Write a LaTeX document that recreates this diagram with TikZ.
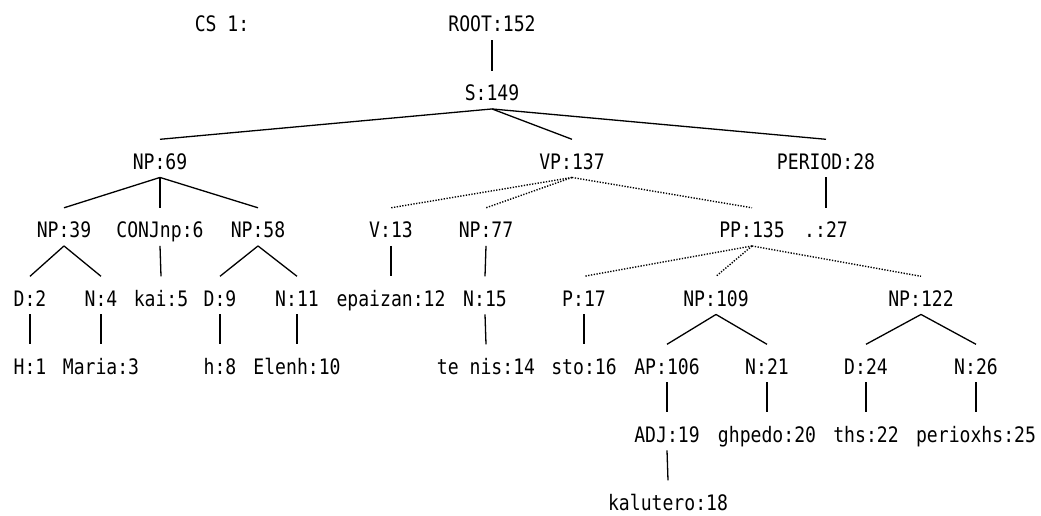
\documentclass[tikz,border=0pt]{standalone}
\usepackage{fontspec}
\newfontfamily\treefont[FakeStretch=0.85]{DejaVu Sans Mono}
\begin{document}
\begin{tikzpicture}[
  x=1pt, y=-1pt,
  font=\treefont\fontsize{21.3}{24}\selectfont,
  cat/.style  = {anchor=base, inner sep=0pt,
                 text height=29.5pt, text depth=8.25pt},
  edge/.style = {line width=1.3pt},
  dots/.style = {line width=1.4pt, dash pattern=on 1.3pt off 1.5pt}
]
\useasboundingbox (0,0) rectangle (1041,516);

% rows of the tree
\node[cat] (cs)   at (222,32)    {CS 1:};
\node[cat] (root) at (492,32)    {ROOT:152};
\node[cat] (s)    at (492,100.5) {S:149};

\node[cat] (np69)   at (160,169) {NP:69};
\node[cat] (vp)     at (572,169) {VP:137};
\node[cat] (period) at (826,169) {PERIOD:28};

\node[cat] (np39)  at (64,237.5)  {NP:39};
\node[cat] (conj)  at (160,237.5) {CONJnp:6};
\node[cat] (np58)  at (258,237.5) {NP:58};
\node[cat] (v13)   at (391,237.5) {V:13};
\node[cat] (np77)  at (486,237.5) {NP:77};
\node[cat] (pp)    at (752,237.5) {PP:135};
\node[cat] (dot27) at (826,237.5) {.:27};

\node[cat] (d2)      at (30,306)  {D:2};
\node[cat] (n4)      at (101,306) {N:4};
\node[cat] (kai)     at (161,306) {kai:5};
\node[cat] (d9)      at (220,306) {D:9};
\node[cat] (n11)     at (297,306) {N:11};
\node[cat] (epaizan) at (391,306) {epaizan:12};
\node[cat] (n15)     at (485,306) {N:15};
\node[cat] (p17)     at (584,306) {P:17};
\node[cat] (np109)   at (716,306) {NP:109};
\node[cat] (np122)   at (921,306) {NP:122};

\node[cat] (h1)    at (30,374)  {H:1};
\node[cat] (maria) at (101,374) {Maria:3};
\node[cat] (h8)    at (220,374) {h:8};
\node[cat] (elenh) at (297,374) {Elenh:10};
\node[cat] (tenis) at (486,374) {te nis:14};
\node[cat] (sto)   at (584,374) {sto:16};
\node[cat] (ap)    at (667,374) {AP:106};
\node[cat] (n21)   at (767,374) {N:21};
\node[cat] (d24)   at (866,374) {D:24};
\node[cat] (n26)   at (976,374) {N:26};

\node[cat] (adj)      at (667,442) {ADJ:19};
\node[cat] (ghpedo)   at (767,442) {ghpedo:20};
\node[cat] (ths)      at (866,442) {ths:22};
\node[cat] (perioxhs) at (976,442) {perioxhs:25};

\node[cat] (kalutero) at (668,510) {kalutero:18};

% branches
\draw[edge] (root.south) -- (s.north);
\draw[edge] (s.south) -- (np69.north);
\draw[edge] (s.south) -- (vp.north);
\draw[edge] (s.south) -- (period.north);
\draw[edge] (np69.south) -- (np39.north);
\draw[edge] (np69.south) -- (conj.north);
\draw[edge] (np69.south) -- (np58.north);
\draw[edge] (period.south) -- (dot27.north);
\draw[dots] (vp.south) -- (v13.north);
\draw[dots] (vp.south) -- (np77.north);
\draw[dots] (vp.south) -- (pp.north);

\draw[edge] (np39.south) -- (d2.north);
\draw[edge] (np39.south) -- (n4.north);
\draw[edge] (conj.south) -- (kai.north);
\draw[edge] (np58.south) -- (d9.north);
\draw[edge] (np58.south) -- (n11.north);
\draw[edge] (v13.south) -- (epaizan.north);
\draw[edge] (np77.south) -- (n15.north);
\draw[dots] (pp.south) -- (p17.north);
\draw[dots] (pp.south) -- (np109.north);
\draw[dots] (pp.south) -- (np122.north);

\draw[edge] (d2.south) -- (h1.north);
\draw[edge] (n4.south) -- (maria.north);
\draw[edge] (d9.south) -- (h8.north);
\draw[edge] (n11.south) -- (elenh.north);
\draw[edge] (n15.south) -- (tenis.north);
\draw[edge] (p17.south) -- (sto.north);
\draw[edge] (np109.south) -- (ap.north);
\draw[edge] (np109.south) -- (n21.north);
\draw[edge] (np122.south) -- (d24.north);
\draw[edge] (np122.south) -- (n26.north);

\draw[edge] (ap.south) -- (adj.north);
\draw[edge] (n21.south) -- (ghpedo.north);
\draw[edge] (d24.south) -- (ths.north);
\draw[edge] (n26.south) -- (perioxhs.north);
\draw[edge] (adj.south) -- (kalutero.north);

\end{tikzpicture}
\end{document}
